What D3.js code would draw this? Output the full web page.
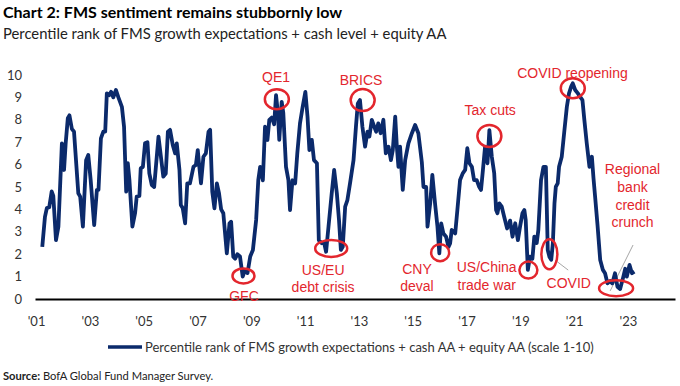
<!DOCTYPE html>
<html>
<head>
<meta charset="utf-8">
<script src="https://cdn.jsdelivr.net/npm/d3@7"></script>
<style>
  body { margin: 0; background: #fff; }
  svg { display: block; font-family: Lato, "Liberation Sans", sans-serif; }
  .title { font-weight: bold; font-size: 16px; fill: #000; }
  .subtitle { font-size: 14.8px; fill: #222; }
  .axis text { font-size: 13px; fill: #333; font-family: Lato, sans-serif; }
  .note { font-size: 14px; fill: #e3262d; font-family: "Liberation Sans", Arial, sans-serif; }
  .ring { fill: none; stroke: #e3262d; stroke-width: 2.5; }
  .leader { stroke: #a6a6a6; stroke-width: 1; }
</style>
</head>
<body>
<script>
// FMS sentiment index (decimal year, 0-10 score)
var dates = [2001.23,2001.33,2001.40,2001.49,2001.58,2001.64,2001.74,2001.83,2001.96,2002.04,
  2002.10,2002.18,2002.24,2002.33,2002.41,2002.57,2002.64,2002.74,2002.86,2002.94,
  2003.03,2003.16,2003.26,2003.32,2003.41,2003.50,2003.57,2003.63,2003.72,2003.79,
  2003.87,2003.97,2004.06,2004.19,2004.27,2004.35,2004.41,2004.47,2004.58,2004.68,
  2004.74,2004.84,2004.89,2004.97,2005.05,2005.14,2005.21,2005.30,2005.39,2005.55,
  2005.64,2005.73,2005.82,2005.90,2005.98,2006.08,2006.17,2006.23,2006.33,2006.38,
  2006.45,2006.54,2006.62,2006.72,2006.85,2006.94,2007.01,2007.06,2007.13,2007.22,
  2007.31,2007.41,2007.47,2007.55,2007.63,2007.72,2007.80,2007.88,2007.96,2008.09,
  2008.19,2008.25,2008.33,2008.40,2008.48,2008.58,2008.68,2008.77,2008.86,2008.96,
  2009.06,2009.18,2009.26,2009.33,2009.43,2009.51,2009.60,2009.67,2009.76,2009.85,
  2009.92,2009.99,2010.04,2010.13,2010.19,2010.29,2010.38,2010.44,2010.53,2010.63,
  2010.71,2010.81,2010.91,2011.01,2011.09,2011.16,2011.25,2011.33,2011.44,2011.51,
  2011.62,2011.71,2011.78,2011.87,2011.99,2012.08,2012.18,2012.26,2012.33,2012.40,
  2012.49,2012.57,2012.67,2012.80,2012.89,2012.96,2013.04,2013.13,2013.23,2013.32,
  2013.39,2013.48,2013.57,2013.64,2013.72,2013.81,2013.91,2014.00,2014.10,2014.19,
  2014.26,2014.35,2014.41,2014.47,2014.53,2014.63,2014.72,2014.84,2014.97,2015.09,
  2015.21,2015.34,2015.40,2015.50,2015.55,2015.65,2015.73,2015.83,2015.92,2015.99,
  2016.06,2016.14,2016.24,2016.33,2016.39,2016.45,2016.58,2016.66,2016.76,2016.86,
  2016.95,2017.03,2017.11,2017.20,2017.28,2017.38,2017.47,2017.54,2017.61,2017.69,
  2017.78,2017.85,2017.94,2018.03,2018.10,2018.15,2018.22,2018.31,2018.40,2018.51,
  2018.62,2018.71,2018.81,2018.91,2018.99,2019.08,2019.15,2019.20,2019.28,2019.36,
  2019.45,2019.52,2019.61,2019.67,2019.77,2019.86,2019.95,2020.02,2020.08,2020.15,
  2020.21,2020.27,2020.32,2020.39,2020.44,2020.54,2020.64,2020.73,2020.81,2020.89,
  2020.95,2021.04,2021.14,2021.22,2021.31,2021.38,2021.47,2021.57,2021.66,2021.72,
  2021.78,2021.87,2021.97,2022.07,2022.15,2022.24,2022.34,2022.42,2022.52,2022.61,
  2022.71,2022.81,2022.90,2022.96,2023.06,2023.15,2023.24];
var sentiment = [2.33,3.67,4.06,4.1,4.8,4.6,2.63,3.23,6.95,5.76,
  6.95,8.07,8.2,7.6,7.47,4.72,4.57,3.23,6.2,6.43,
  5.3,3.3,4.87,4.87,7.17,7.47,7.47,9.18,9.1,9.25,
  9.0,9.33,9.0,8.58,7.69,4.79,6.06,5.31,3.23,3.83,
  4.57,4.6,5.83,5.9,6.95,7.0,5.61,5.09,5.0,7.25,
  6.35,5.46,5.6,7.47,7.55,6.88,6.5,6.95,5.76,4.2,
  4.06,3.38,5.16,5.16,5.9,5.98,6.65,6.0,5.16,6.35,
  6.5,7.47,7.55,4.79,4.05,5.16,4.72,4.0,3.83,2.04,
  3.38,3.45,1.89,1.8,2.0,1.9,1.0,1.3,1.16,1.9,
  2.19,3.53,5.31,5.9,5.3,7.69,7.1,8.0,8.1,7.8,
  9.1,8.29,7.1,8.8,8.3,5.9,5.31,3.97,5.3,5.16,
  6.5,7.84,8.58,9.25,8.14,6.65,7.1,6.2,6.06,2.63,
  2.49,2.5,2.11,3.23,4.72,5.76,4.72,3.53,2.19,2.33,
  4.12,4.4,5.16,6.2,7.69,8.73,8.88,7.69,6.8,7.47,
  7.25,8.0,7.69,7.47,7.84,7.4,8.0,6.5,6.8,6.2,
  6.65,8.14,6.8,5.9,6.8,4.87,6.2,6.95,7.4,7.77,
  7.4,6.1,5.0,5.0,3.23,4.27,5.54,4.27,3.23,2.04,
  3.38,2.93,2.78,2.33,2.48,3.08,2.93,3.97,5.31,5.61,
  5.76,6.73,6.06,5.9,5.31,5.31,5.01,4.87,5.76,6.8,
  6.06,7.54,6.35,5.61,3.97,3.83,4.27,4.12,3.67,3.15,
  3.5,2.78,3.38,2.63,3.23,3.83,3.97,3.53,1.3,1.89,
  1.8,2.78,2.5,3.08,5.31,5.9,5.9,2.19,1.89,1.75,
  2.49,4.27,5.01,5.16,5.9,6.35,7.54,8.58,9.18,9.48,
  9.63,9.33,9.18,9.03,8.88,8.0,6.95,5.9,6.35,5.4,
  4.57,3.3,1.74,1.3,1.15,0.7,0.8,0.7,1.15,0.55,
  0.45,0.9,1.35,1.0,1.52,1.15,1.22];

var xTicks = [2001,2003,2005,2007,2009,2011,2013,2015,2017,2019,2021,2023];
var yTicks = [0,1,2,3,4,5,6,7,8,9,10];

// event markers: ring centre (year, value), ring radii, label lines with anchor (year, baseline value)
var events = [
  {lines:["QE1"], cx:2009.95, cy:8.92, rx:12, ry:10, lx:2009.92, ly:[9.69]},
  {lines:["BRICS"], cx:2013.14, cy:8.88, rx:12, ry:11, lx:2013.08, ly:[9.55]},
  {lines:["GFC"], cx:2008.71, cy:1.03, rx:11, ry:7.5, lx:2008.73, ly:[-0.08]},
  {lines:["US/EU","debt crisis"], cx:2011.97, cy:2.26, rx:16, ry:8.5, lx:2011.67, ly:[1.07,0.31]},
  {lines:["CNY","deval"], cx:2016.02, cy:2.07, rx:9, ry:8.5, lx:2015.16, ly:[1.12,0.36]},
  {lines:["Tax cuts"], cx:2017.85, cy:7.28, rx:12, ry:11, lx:2017.88, ly:[8.21]},
  {lines:["US/China","trade war"], cx:2019.30, cy:1.29, rx:9, ry:8.5, lx:2017.75, ly:[1.2,0.4]},
  {lines:["COVID"], cx:2020.08, cy:2.0, rx:8, ry:15, lx:2020.80, ly:[0.49]},
  {lines:["COVID reopening"], cx:2020.95, cy:9.41, rx:12, ry:10, lx:2020.94, ly:[9.87]},
  {lines:["Regional","bank","credit","crunch"], cx:2022.56, cy:0.48, rx:17, ry:8, lx:2023.17, ly:[5.58,4.78,3.97,3.21]}
];
var leaders = [
  [[2020.29,1.74],[2020.78,1.29]],
  [[2023.19,2.41],[2022.34,0.36]]
];

var width = 680, height = 386;
var navy = "#0b2a6b";

var svg = d3.select("body").append("svg")
  .attr("width", width)
  .attr("height", height);

var x = d3.scaleLinear().domain([2000.96, 2024.75]).range([35, 675]);
var y = d3.scaleLinear().domain([0, 10]).range([299, 75]);

//titles
svg.append("text").attr("class", "title").attr("x", 3).attr("y", 18)
  .text("Chart 2: FMS sentiment remains stubbornly low");
svg.append("text").attr("class", "subtitle").attr("x", 3).attr("y", 39)
  .text("Percentile rank of FMS growth expectations + cash level + equity AA");

//y axis, labels only
var yAxis = svg.append("g").attr("class", "axis")
  .attr("transform", "translate(22,0)")
  .call(d3.axisLeft(y).tickValues(yTicks).tickSize(0).tickPadding(0));
yAxis.select(".domain").remove();

//x axis
var xAxis = svg.append("g").attr("class", "axis")
  .attr("transform", "translate(0," + y(0) + ")")
  .call(d3.axisBottom(x).tickValues(xTicks).tickSize(0).tickSizeOuter(0).tickPadding(18)
    .tickFormat(function(d){ return "'" + String(d).slice(2); }));
xAxis.select(".domain").attr("stroke", "#000").attr("stroke-width", 2.2);

//leader lines go under the series
svg.selectAll(".leader").data(leaders).enter().append("line")
  .attr("class", "leader")
  .attr("x1", function(d){ return x(d[0][0]); })
  .attr("y1", function(d){ return y(d[0][1]); })
  .attr("x2", function(d){ return x(d[1][0]); })
  .attr("y2", function(d){ return y(d[1][1]); });

var series = dates.map(function(d, i){ return [d, sentiment[i]]; });
var line = d3.line()
  .x(function(d){ return x(d[0]); })
  .y(function(d){ return y(d[1]); });

svg.append("path")
  .datum(series)
  .attr("fill", "none")
  .attr("stroke", navy)
  .attr("stroke-width", 3.8)
  .attr("stroke-linejoin", "round")
  .attr("d", line);

//event rings and labels
svg.selectAll(".ring").data(events).enter().append("ellipse")
  .attr("class", "ring")
  .attr("cx", function(d){ return x(d.cx); })
  .attr("cy", function(d){ return y(d.cy); })
  .attr("rx", function(d){ return d.rx; })
  .attr("ry", function(d){ return d.ry; });

events.forEach(function(ev){
  ev.lines.forEach(function(t, i){
    svg.append("text").attr("class", "note")
      .attr("x", x(ev.lx))
      .attr("y", y(ev.ly[i]))
      .attr("text-anchor", "middle")
      .text(t);
  });
});

//legend
svg.append("line")
  .attr("x1", 108).attr("x2", 142).attr("y1", 347).attr("y2", 347)
  .attr("stroke", navy).attr("stroke-width", 3.6);
svg.append("text")
  .attr("x", 145).attr("y", 352)
  .style("font-size", "13px").style("fill", "#333")
  .text("Percentile rank of FMS growth expectations + cash AA + equity AA (scale 1-10)");

//source
var src = svg.append("text").attr("x", 3).attr("y", 380)
  .style("font-size", "11.2px").style("fill", "#222");
src.append("tspan").style("font-weight", "bold").text("Source:");
src.append("tspan").text("  BofA Global Fund Manager Survey.");
</script>
</body>
</html>
